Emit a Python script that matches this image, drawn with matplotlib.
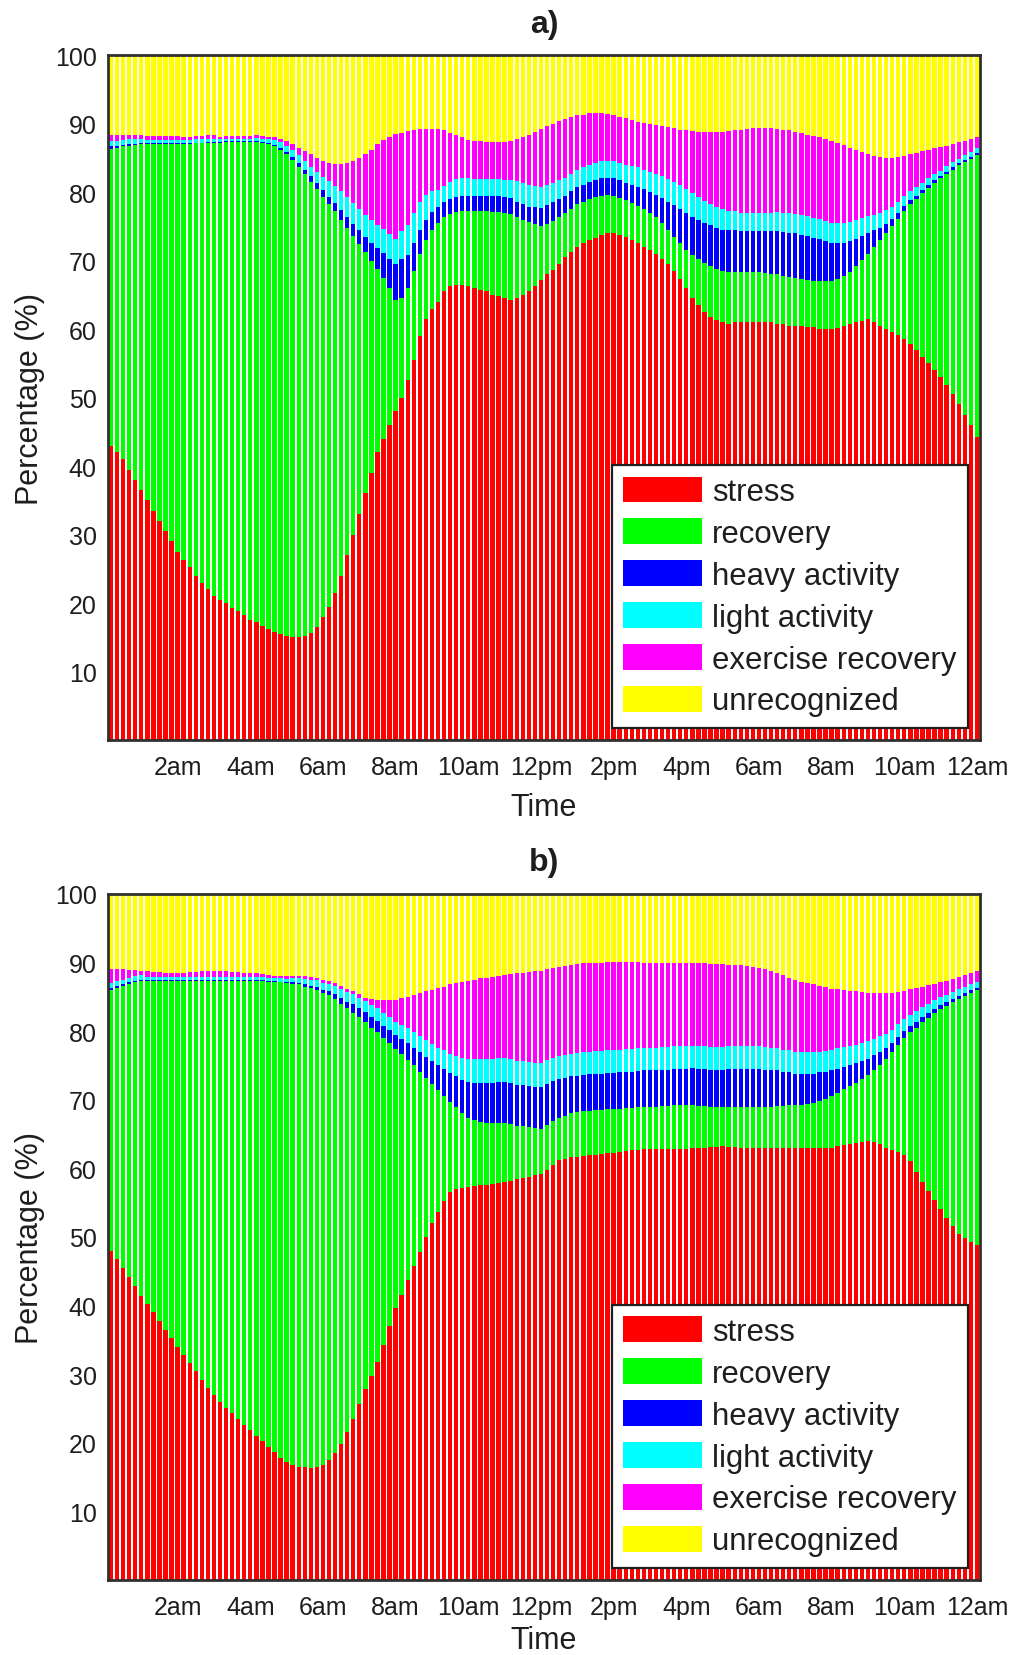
import matplotlib

matplotlib.use("Agg")
import matplotlib.pyplot as plt
import numpy as np
from matplotlib.patches import Patch

# Share of each state (%) per 10-minute bin, bar 1 = 00:00-00:10 ... bar 144 = 23:50-24:00
STRESS_A = [
    43, 42, 41, 39.5, 38, 36.5, 35, 33.5, 32, 30.5, 29, 27.5,
    26.3, 25.2, 24, 23, 22, 21, 20.5, 20, 19.3, 18.8, 18.2, 17.6,
    17.2, 16.7, 16.2, 15.8, 15.5, 15.2, 15, 15, 15.2, 15.6, 16.5, 18,
    19.5, 21.5, 24, 27, 30, 33, 36, 39, 42, 44, 46, 48,
    50, 52.5, 55.5, 59, 61.5, 63, 64, 65.5, 66.3, 66.5, 66.5, 66.3,
    66, 65.7, 65.5, 65, 64.8, 64.5, 64.3, 64.5, 65, 65.5, 66.3, 67.2,
    68, 68.7, 69.5, 70.5, 71.3, 72, 72.5, 73, 73.3, 73.7, 74, 74,
    73.8, 73.5, 73, 72.5, 72, 71.5, 71, 70.3, 69.5, 68.5, 67.3, 66,
    64.5, 63.5, 62.5, 61.8, 61.3, 61, 60.8, 61, 61, 61, 61, 61,
    61, 61, 60.8, 60.8, 60.5, 60.5, 60.5, 60.3, 60.3, 60, 60, 60,
    60.2, 60.5, 60.8, 61, 61.2, 61.5, 61, 60.5, 60, 59.6, 59.2, 58.5,
    57.8, 57, 56, 55, 54, 53, 51.8, 50.5, 49, 47.5, 46, 44.3,
]
RECOVERY_A = [
    43.3, 44.5, 45.7, 47.3, 48.9, 50.5, 52, 53.5, 55, 56.5, 58, 59.5,
    60.7, 61.8, 63.1, 64.1, 65.2, 66.2, 66.7, 67.3, 68, 68.5, 69.1, 69.7,
    70.1, 70.5, 70.8, 70.9, 70.7, 70.3, 69.7, 68.7, 67.4, 65.9, 63.9, 61.3,
    58.7, 55.7, 52, 47.8, 43.6, 39.4, 35.2, 31, 26.8, 23.5, 20, 16.3,
    14.5, 13.5, 13, 12, 11.5, 11.5, 11.5, 10.8, 10.5, 10.6, 10.7, 10.9,
    11.2, 11.5, 11.7, 12.1, 12.3, 12.5, 12.5, 11.9, 11, 10.1, 9, 7.8,
    7.3, 7.1, 6.9, 6.5, 6.3, 6.2, 6.1, 6, 6, 5.8, 5.6, 5.5,
    5.4, 5.3, 5.4, 5.5, 5.5, 5.5, 5.3, 5.2, 5, 5, 5.2, 5.5,
    6.3, 6.7, 7.1, 7.4, 7.5, 7.5, 7.6, 7.4, 7.3, 7.3, 7.3, 7.3,
    7.2, 7.1, 7.2, 7, 7.1, 7, 6.8, 6.9, 6.7, 7, 7, 7,
    7.1, 7.3, 7.6, 8.2, 8.9, 9.5, 11, 12.5, 14, 15.4, 16.9, 18.7,
    20.4, 22, 23.8, 25.6, 27.3, 29, 30.9, 32.8, 34.9, 36.9, 38.9, 41.1,
]
HEAVY_A = [
    0.4, 0.3, 0.2, 0.2, 0.1, 0.1, 0.1, 0.1, 0.1, 0.1, 0.1, 0.1,
    0.1, 0.1, 0.1, 0.1, 0.1, 0.1, 0.1, 0.1, 0.1, 0.1, 0.1, 0.1,
    0.1, 0.1, 0.2, 0.2, 0.3, 0.4, 0.5, 0.6, 0.7, 0.8, 0.9, 1.0,
    1.1, 1.2, 1.4, 1.6, 1.8, 2.0, 2.2, 2.6, 3.0, 3.6, 4.3, 5.2,
    5.8, 4.8, 4.0, 3.5, 3.0, 2.6, 2.3, 2.2, 2.2, 2.2, 2.2, 2.2,
    2.2, 2.2, 2.2, 2.3, 2.3, 2.3, 2.3, 2.2, 2.2, 2.3, 2.5, 2.7,
    2.8, 2.7, 2.6, 2.5, 2.5, 2.5, 2.5, 2.5, 2.5, 2.5, 2.5, 2.5,
    2.5, 2.6, 2.7, 2.8, 2.9, 3.0, 3.3, 3.7, 4.1, 4.6, 5.0, 5.4,
    5.6, 5.8, 5.9, 6.0, 6.0, 6.0, 6.0, 6.0, 6.0, 6.0, 6.0, 6.0,
    6.1, 6.2, 6.3, 6.4, 6.5, 6.5, 6.5, 6.4, 6.3, 6.1, 5.8, 5.5,
    5.2, 4.8, 4.4, 4.0, 3.5, 3.0, 2.4, 1.8, 1.4, 1.1, 0.9, 0.8,
    0.6, 0.5, 0.5, 0.4, 0.4, 0.3, 0.3, 0.3, 0.3, 0.3, 0.3, 0.3,
]
LIGHT_A = [
    0.7, 0.7, 0.7, 0.7, 0.7, 0.7, 0.5, 0.5, 0.5, 0.5, 0.5, 0.5,
    0.5, 0.5, 0.5, 0.5, 0.5, 0.5, 0.4, 0.4, 0.4, 0.4, 0.4, 0.4,
    0.5, 0.5, 0.6, 0.7, 0.8, 0.9, 1.0, 1.1, 1.2, 1.4, 1.6, 1.9,
    2.3, 2.5, 2.7, 2.9, 3.0, 3.1, 3.2, 3.3, 3.4, 3.5, 3.6, 3.6,
    4.0, 4.4, 4.4, 4.0, 3.6, 3.0, 2.5, 2.4, 2.5, 2.6, 2.6, 2.6,
    2.5, 2.5, 2.5, 2.5, 2.5, 2.5, 2.7, 3.0, 3.1, 3.1, 3.1, 3.1,
    3.0, 2.8, 2.7, 2.6, 2.5, 2.5, 2.5, 2.5, 2.5, 2.5, 2.5, 2.5,
    2.5, 2.6, 2.7, 2.8, 2.9, 3.0, 3.1, 3.2, 3.3, 3.4, 3.5, 3.5,
    3.4, 3.3, 3.2, 3.1, 3.0, 3.0, 2.9, 2.8, 2.7, 2.7, 2.7, 2.7,
    2.7, 2.7, 2.8, 2.8, 2.8, 2.8, 2.8, 2.9, 2.9, 3.0, 3.0, 3.0,
    3.0, 2.9, 2.8, 2.7, 2.6, 2.5, 2.3, 2.2, 2.0, 1.8, 1.6, 1.4,
    1.3, 1.2, 1.1, 1.0, 0.9, 0.8, 0.8, 0.8, 0.7, 0.7, 0.7, 0.7,
]
EXERCISE_A = [
    0.9, 0.9, 0.8, 0.7, 0.6, 0.6, 0.6, 0.6, 0.6, 0.6, 0.6, 0.6,
    0.5, 0.5, 0.5, 0.5, 0.5, 0.5, 0.4, 0.4, 0.4, 0.4, 0.4, 0.4,
    0.4, 0.4, 0.3, 0.4, 0.5, 0.7, 0.8, 1.1, 1.5, 1.8, 2.1, 2.4,
    2.7, 3.2, 4.0, 4.9, 6.1, 7.5, 8.9, 10.3, 11.8, 13, 14.2, 15.4,
    14.4, 13.7, 12.1, 10.7, 9.6, 9.1, 8.9, 8.1, 7.1, 6.4, 6.0, 5.6,
    5.6, 5.5, 5.4, 5.4, 5.4, 5.5, 5.7, 6.1, 6.7, 7.4, 7.9, 8.4,
    8.5, 8.7, 8.7, 8.6, 8.4, 8.0, 7.7, 7.5, 7.2, 7, 6.8, 6.7,
    6.8, 6.8, 6.7, 6.7, 6.8, 7.0, 7.1, 7.2, 7.6, 7.8, 8.1, 8.6,
    9.1, 9.5, 10.1, 10.5, 11, 11.3, 11.6, 11.8, 12.1, 12.2, 12.3, 12.3,
    12.3, 12.3, 12.1, 12.1, 12.1, 12, 12, 11.9, 12, 11.9, 12, 12,
    11.7, 11.4, 10.9, 10.3, 9.6, 9.0, 8.6, 8.1, 7.6, 7.1, 6.5, 5.9,
    5.4, 5.0, 4.6, 4.2, 3.8, 3.5, 3.0, 2.6, 2.4, 2.1, 1.9, 1.6,
]
UNRECOG_A = [
    11.7, 11.6, 11.6, 11.6, 11.7, 11.6, 11.8, 11.8, 11.8, 11.8, 11.8, 11.8,
    11.9, 11.9, 11.8, 11.8, 11.7, 11.7, 11.9, 11.8, 11.8, 11.8, 11.8, 11.8,
    11.7, 11.8, 11.9, 12.0, 12.2, 12.5, 13, 13.5, 14, 14.5, 15, 15.4,
    15.7, 15.9, 15.9, 15.8, 15.5, 15, 14.5, 13.8, 13, 12.4, 11.9, 11.5,
    11.3, 11.1, 11, 10.8, 10.8, 10.8, 10.8, 11, 11.4, 11.7, 12, 12.4,
    12.5, 12.6, 12.7, 12.7, 12.7, 12.7, 12.5, 12.3, 12, 11.6, 11.2, 10.8,
    10.4, 10, 9.6, 9.3, 9, 8.8, 8.7, 8.5, 8.5, 8.5, 8.6, 8.8,
    9, 9.2, 9.5, 9.7, 9.9, 10, 10.2, 10.4, 10.5, 10.7, 10.9, 11,
    11.1, 11.2, 11.2, 11.2, 11.2, 11.2, 11.1, 11, 10.9, 10.8, 10.7, 10.7,
    10.7, 10.7, 10.8, 10.9, 11, 11.2, 11.4, 11.6, 11.8, 12, 12.2, 12.5,
    12.8, 13.1, 13.5, 13.8, 14.2, 14.5, 14.7, 14.9, 15, 15, 14.9, 14.7,
    14.5, 14.3, 14, 13.8, 13.6, 13.4, 13.2, 13, 12.7, 12.5, 12.2, 12,
]

STRESS_B = [
    48, 46.8, 45.5, 44.2, 42.8, 41.4, 40.2, 39, 37.8, 36.5, 35.2, 34,
    32.8, 31.6, 30.4, 29.2, 28, 27, 26, 25.1, 24.3, 23.5, 22.6, 21.8,
    21, 20.2, 19.4, 18.6, 17.8, 17.2, 16.8, 16.5, 16.4, 16.3, 16.5, 16.8,
    17.5, 18.5, 19.8, 21.5, 23.5, 25.7, 27.8, 29.8, 31.8, 34.3, 37, 39.6,
    41.6, 43.7, 45.7, 47.8, 50, 52, 53.7, 55.3, 56.6, 57, 57.2, 57.3,
    57.4, 57.5, 57.6, 57.7, 57.8, 58, 58.2, 58.4, 58.6, 58.8, 59, 59.2,
    59.8, 60.5, 61.2, 61.4, 61.6, 61.7, 61.8, 61.9, 62, 62.1, 62.2, 62.3,
    62.4, 62.5, 62.6, 62.7, 62.8, 62.8, 62.8, 62.8, 62.8, 62.8, 62.8, 62.8,
    62.9, 63, 63, 63.1, 63.1, 63.2, 63.1, 63.1, 63, 63, 63, 63,
    63, 63, 63, 63, 63, 63, 63, 63, 63, 63, 63, 63,
    63.2, 63.4, 63.6, 63.7, 63.9, 64, 63.8, 63.5, 63, 62.7, 62.4, 62,
    61, 59.5, 58, 56.7, 55.4, 54, 52.8, 51.6, 50.4, 49.8, 49.2, 48.8,
]
RECOVERY_B = [
    38, 39.5, 41.1, 42.7, 44.3, 45.9, 47.1, 48.3, 49.5, 50.8, 52.1, 53.3,
    54.5, 55.7, 56.9, 58.1, 59.3, 60.3, 61.3, 62.2, 63, 63.8, 64.7, 65.5,
    66.3, 67.1, 67.8, 68.6, 69.3, 69.8, 70.1, 70.3, 70.1, 70, 69.5, 68.7,
    67.7, 66.2, 64.2, 61.8, 59.2, 56.3, 53.5, 50.7, 48, 44.7, 41.2, 37.8,
    35, 32.1, 29.3, 26.3, 23.2, 20.3, 17.7, 15.3, 13.1, 11.9, 10.9, 10.1,
    9.6, 9.2, 9, 8.9, 8.8, 8.6, 8.2, 7.8, 7.5, 7.2, 6.9, 6.6,
    6.5, 6.4, 6.2, 6.3, 6.4, 6.5, 6.5, 6.5, 6.5, 6.4, 6.4, 6.3,
    6.3, 6.3, 6.2, 6.2, 6.2, 6.2, 6.2, 6.3, 6.3, 6.4, 6.4, 6.4,
    6.3, 6.1, 6.1, 5.9, 5.9, 5.8, 5.9, 5.9, 6, 6, 6, 6,
    6, 6, 6.1, 6.1, 6.2, 6.2, 6.3, 6.4, 6.5, 6.8, 7.1, 7.5,
    7.8, 8.1, 8.4, 8.8, 9.1, 9.6, 10.5, 11.6, 12.9, 14.2, 15.6, 17,
    18.8, 21, 23.3, 25.2, 27.2, 29.2, 30.9, 32.6, 34.3, 35.3, 36.4, 37.2,
]
HEAVY_B = [
    0.3, 0.3, 0.2, 0.2, 0.2, 0.2, 0.1, 0.1, 0.1, 0.1, 0.1, 0.1,
    0.1, 0.1, 0.1, 0.1, 0.1, 0.1, 0.1, 0.1, 0.1, 0.1, 0.1, 0.1,
    0.1, 0.1, 0.1, 0.1, 0.1, 0.1, 0.2, 0.2, 0.3, 0.3, 0.4, 0.5,
    0.6, 0.7, 0.9, 1.0, 1.2, 1.3, 1.5, 1.6, 1.7, 1.8, 1.9, 2.0,
    2.2, 2.4, 2.6, 2.8, 3.0, 3.3, 3.6, 3.9, 4.2, 4.5, 4.8, 5.2,
    5.5, 5.7, 5.8, 5.9, 6.0, 6.0, 6.0, 6.0, 6.0, 6.0, 6.0, 6.0,
    6.0, 5.8, 5.6, 5.5, 5.4, 5.3, 5.3, 5.3, 5.3, 5.3, 5.3, 5.3,
    5.3, 5.3, 5.3, 5.3, 5.3, 5.3, 5.3, 5.3, 5.3, 5.3, 5.3, 5.3,
    5.4, 5.4, 5.4, 5.4, 5.4, 5.4, 5.5, 5.5, 5.5, 5.5, 5.5, 5.5,
    5.4, 5.3, 5.2, 5.0, 4.8, 4.6, 4.5, 4.4, 4.3, 4.2, 4.0, 3.8,
    3.5, 3.3, 3.0, 2.8, 2.6, 2.4, 2.2, 1.9, 1.6, 1.3, 1.1, 1.0,
    0.9, 0.8, 0.7, 0.7, 0.6, 0.6, 0.5, 0.5, 0.4, 0.4, 0.4, 0.3,
]
LIGHT_B = [
    0.7, 0.7, 0.7, 0.7, 0.7, 0.7, 0.5, 0.5, 0.5, 0.5, 0.5, 0.5,
    0.5, 0.5, 0.5, 0.5, 0.5, 0.5, 0.5, 0.5, 0.5, 0.5, 0.5, 0.5,
    0.5, 0.5, 0.5, 0.5, 0.5, 0.5, 0.6, 0.7, 0.8, 0.9, 1.0, 1.0,
    1.1, 1.2, 1.3, 1.4, 1.5, 1.5, 1.6, 1.7, 1.8, 1.9, 2.0, 2.0,
    2.1, 2.2, 2.3, 2.4, 2.5, 2.5, 2.6, 2.7, 2.8, 3.0, 3.2, 3.4,
    3.5, 3.5, 3.5, 3.5, 3.5, 3.5, 3.5, 3.5, 3.5, 3.5, 3.5, 3.5,
    3.5, 3.4, 3.4, 3.3, 3.3, 3.3, 3.3, 3.3, 3.3, 3.3, 3.3, 3.3,
    3.3, 3.3, 3.3, 3.3, 3.3, 3.3, 3.3, 3.3, 3.3, 3.3, 3.3, 3.3,
    3.3, 3.3, 3.3, 3.3, 3.3, 3.3, 3.3, 3.3, 3.3, 3.3, 3.3, 3.3,
    3.3, 3.3, 3.2, 3.2, 3.2, 3.2, 3.2, 3.1, 3.1, 3.0, 3.0, 3.0,
    3.0, 2.9, 2.8, 2.7, 2.6, 2.5, 2.4, 2.3, 2.1, 2.0, 1.9, 1.8,
    1.7, 1.6, 1.5, 1.4, 1.3, 1.2, 1.1, 1.0, 1.0, 0.9, 0.9, 0.8,
]
EXERCISE_B = [
    2.0, 1.7, 1.5, 1.1, 0.9, 0.6, 0.8, 0.7, 0.7, 0.6, 0.6, 0.6,
    0.6, 0.7, 0.7, 0.8, 0.8, 0.8, 0.8, 0.8, 0.7, 0.7, 0.6, 0.6,
    0.5, 0.4, 0.4, 0.3, 0.3, 0.4, 0.4, 0.4, 0.4, 0.4, 0.4, 0.5,
    0.4, 0.4, 0.4, 0.5, 0.5, 0.6, 0.5, 0.9, 1.3, 1.8, 2.4, 3.2,
    3.9, 4.6, 5.3, 6.2, 7.1, 7.9, 8.7, 9.3, 10.1, 10.6, 11.1, 11.3,
    11.5, 11.8, 11.9, 11.9, 11.9, 12.1, 12.4, 12.7, 12.9, 13.1, 13.3, 13.5,
    13.2, 13.1, 12.9, 13, 13, 13, 13, 13, 12.9, 12.9, 12.9, 12.9,
    12.8, 12.7, 12.7, 12.6, 12.4, 12.4, 12.4, 12.3, 12.3, 12.2, 12.2, 12.2,
    12, 12.1, 12.1, 12.1, 12.1, 12.1, 11.9, 11.9, 11.8, 11.7, 11.6, 11.4,
    11.3, 11.2, 11, 10.9, 10.6, 10.5, 10.2, 10.1, 9.9, 9.6, 9.3, 8.9,
    8.6, 8.3, 8.1, 7.8, 7.5, 7.1, 6.6, 6.2, 5.9, 5.4, 4.7, 4.1,
    3.7, 3.4, 3.0, 2.7, 2.4, 2.1, 2.0, 1.9, 1.8, 1.8, 1.6, 1.7,
]
UNRECOG_B = [
    11, 11, 11, 11.1, 11.1, 11.2, 11.3, 11.4, 11.4, 11.5, 11.5, 11.5,
    11.5, 11.4, 11.4, 11.3, 11.3, 11.3, 11.3, 11.3, 11.4, 11.4, 11.5, 11.5,
    11.6, 11.7, 11.8, 11.9, 12, 12, 11.9, 11.9, 12, 12.1, 12.2, 12.5,
    12.7, 13, 13.4, 13.8, 14.1, 14.6, 15.1, 15.3, 15.4, 15.5, 15.5, 15.4,
    15.2, 15, 14.8, 14.5, 14.2, 14, 13.7, 13.5, 13.2, 13, 12.8, 12.7,
    12.5, 12.3, 12.2, 12.1, 12, 11.8, 11.7, 11.6, 11.5, 11.4, 11.3, 11.2,
    11, 10.8, 10.7, 10.5, 10.3, 10.2, 10.1, 10, 10, 10, 9.9, 9.9,
    9.9, 9.9, 9.9, 9.9, 10, 10, 10, 10, 10, 10, 10, 10,
    10.1, 10.1, 10.1, 10.2, 10.2, 10.2, 10.3, 10.3, 10.4, 10.5, 10.6, 10.8,
    11, 11.2, 11.5, 11.8, 12.2, 12.5, 12.8, 13, 13.2, 13.4, 13.6, 13.8,
    13.9, 14, 14.1, 14.2, 14.3, 14.4, 14.5, 14.5, 14.5, 14.4, 14.3, 14.1,
    13.9, 13.7, 13.5, 13.3, 13.1, 12.9, 12.7, 12.4, 12.1, 11.8, 11.5, 11.2,
]

STATES = ["stress", "recovery", "heavy activity", "light activity",
          "exercise recovery", "unrecognized"]
COLORS = ["#ff0000", "#00ff00", "#0000ff", "#00ffff", "#ff00ff", "#ffff00"]
TICK_POS = [12, 24, 36, 48, 60, 72, 84, 96, 108, 120, 132, 144]
TICK_LABELS = ["2am", "4am", "6am", "8am", "10am", "12pm",
               "2pm", "4pm", "6am", "8am", "10am", "12am"]

INK = "#1e1e1e"
FRAME = "#303030"

plt.rcParams.update({
    "font.family": ["Liberation Sans", "DejaVu Sans"],
    "figure.facecolor": "white",
    "axes.facecolor": "white",
})


def draw_panel(ax, series, title, xlabel_pad):
    n = len(series[0])
    x = np.arange(1, n + 1)
    bottom = np.zeros(n)
    for vals, color in zip(series, COLORS):
        vals = np.asarray(vals, dtype=float)
        ax.bar(x, vals, width=0.72, bottom=bottom, color=color,
               linewidth=0, align="center")
        bottom += vals

    ax.set_xlim(0.5, n + 0.5)
    ax.set_ylim(0, 100)
    ax.set_xticks(TICK_POS, TICK_LABELS)
    ax.set_yticks(range(10, 101, 10))
    ax.tick_params(axis="x", length=0, labelsize=18, pad=11, colors=INK)
    ax.tick_params(axis="y", length=0, labelsize=18, pad=8, colors=INK)
    for sp in ax.spines.values():
        sp.set_linewidth(2.0)
        sp.set_color(FRAME)

    ax.set_xlabel("Time", fontsize=22, color=INK, labelpad=xlabel_pad)
    ax.set_ylabel("Percentage (%)", fontsize=22, color=INK, labelpad=7)
    ax.set_title(title, fontsize=23, fontweight="bold", color=INK, pad=17)

    handles = [Patch(facecolor=c, edgecolor="none") for c in COLORS]
    leg = ax.legend(handles, STATES, loc="lower right", fontsize=22.4,
                    frameon=True, fancybox=False, framealpha=1,
                    edgecolor=INK, handlelength=2.55, handleheight=0.9,
                    labelspacing=0.36, borderpad=0.36, borderaxespad=0.4,
                    handletextpad=0.3)
    leg.get_frame().set_linewidth(1.6)
    for t in leg.get_texts():
        t.set_color(INK)


fig = plt.figure(figsize=(10.13, 16.56), dpi=100)
ax_a = fig.add_axes([0.1066, 0.5525, 0.8608, 0.4136])
ax_b = fig.add_axes([0.1066, 0.0453, 0.8608, 0.4143])

draw_panel(ax_a, [STRESS_A, RECOVERY_A, HEAVY_A, LIGHT_A, EXERCISE_A, UNRECOG_A],
           "a)", xlabel_pad=9)
draw_panel(ax_b, [STRESS_B, RECOVERY_B, HEAVY_B, LIGHT_B, EXERCISE_B, UNRECOG_B],
           "b)", xlabel_pad=4)

fig.savefig("out.png", dpi=100, facecolor="white")
